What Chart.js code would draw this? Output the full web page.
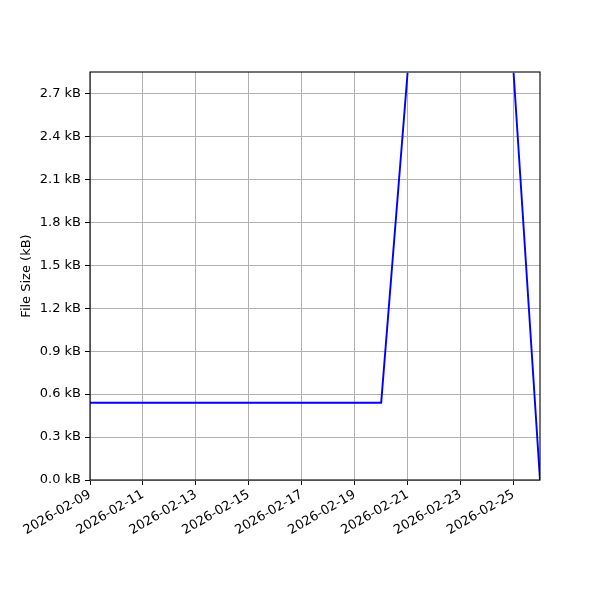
<!DOCTYPE html>
<html>
<head>
<meta charset="utf-8">
<script src="https://cdn.jsdelivr.net/npm/chart.js@4"></script>
<style>
html,body{margin:0;padding:0;background:#fff;}
#wrap{width:600px;height:600px;}
</style>
</head>
<body>
<div id="wrap"><canvas id="c" width="600" height="600"></canvas></div>
<script>
const dates = ['2026-02-09','2026-02-10','2026-02-11','2026-02-12','2026-02-13','2026-02-14','2026-02-15','2026-02-16','2026-02-17','2026-02-18','2026-02-19','2026-02-20','2026-02-21','2026-02-22','2026-02-23','2026-02-24','2026-02-25','2026-02-26'];
const sizesKB = [0.54,0.54,0.54,0.54,0.54,0.54,0.54,0.54,0.54,0.54,0.54,0.54,2.85,2.85,2.85,2.85,2.85,0.0];
const startDate = '2026-02-09';
const yMax = 2.85;
const yStep = 0.3;
const xTickStepDays = 2;

const DAY = 86400000;
const t0 = Date.parse(startDate + 'T00:00:00Z');
const dayIndex = s => Math.round((Date.parse(s + 'T00:00:00Z') - t0) / DAY);
const dayLabel = i => new Date(t0 + i * DAY).toISOString().slice(0, 10);
const points = dates.map((d, i) => ({x: dayIndex(d), y: sizesKB[i]}));

const font = {family: 'DejaVu Sans', size: 13};

const frame = {
  id: 'frame',
  afterDatasetsDraw(chart) {
    const a = chart.chartArea, ctx = chart.ctx;
    ctx.save();
    ctx.strokeStyle = '#000';
    ctx.lineWidth = 1.1;
    ctx.strokeRect(a.left, a.top, a.right - a.left, a.bottom - a.top);
    ctx.restore();
  }
};

new Chart(document.getElementById('c'), {
  type: 'line',
  data: {
    datasets: [{
      data: points,
      borderColor: '#0000ff',
      borderWidth: 1.9,
      pointRadius: 0,
      tension: 0,
      fill: false,
      clip: {left: 0, top: -1, right: 0, bottom: 0}
    }]
  },
  options: {
    responsive: false,
    animation: false,
    devicePixelRatio: 1,
    layout: {padding: {left: 0, right: 60, top: 72, bottom: 0}},
    plugins: {legend: {display: false}, tooltip: {enabled: false}},
    scales: {
      x: {
        type: 'linear',
        min: dayIndex(dates[0]),
        max: dayIndex(dates[dates.length - 1]),
        afterFit: s => { s.height = 120; },
        grid: {color: '#b0b0b0', lineWidth: 1, tickColor: '#000', tickLength: 5},
        border: {display: false},
        ticks: {
          stepSize: xTickStepDays,
          includeBounds: false,
          autoSkip: false,
          maxRotation: 30,
          minRotation: 30,
          padding: 2,
          color: '#000',
          font: font,
          callback: v => dayLabel(v)
        }
      },
      y: {
        min: 0,
        max: yMax,
        afterFit: s => { s.width = 90; },
        grid: {color: '#b0b0b0', lineWidth: 1, tickColor: '#000', tickLength: 5},
        border: {display: false},
        title: {display: true, text: 'File Size (kB)', color: '#000', font: font, padding: {top: 19, bottom: 0}},
        ticks: {
          stepSize: yStep,
          includeBounds: false,
          padding: 4,
          color: '#000',
          font: font,
          callback: v => v.toFixed(1) + ' kB'
        }
      }
    }
  },
  plugins: [frame]
});
</script>
</body>
</html>
